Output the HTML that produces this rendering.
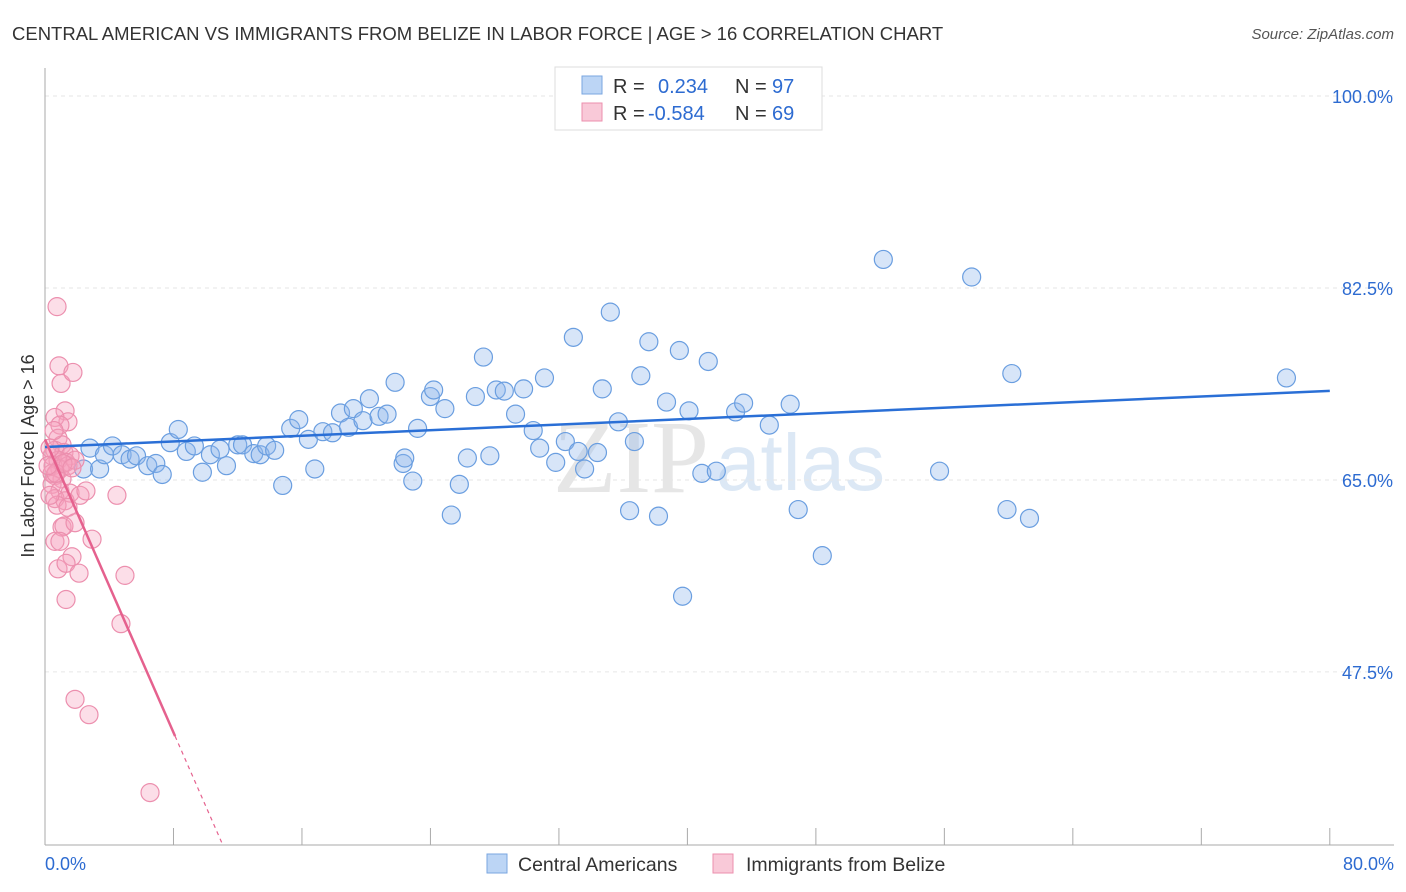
<!DOCTYPE html>
<html><head><meta charset="utf-8"><style>
body{margin:0;background:#fff;font-family:"Liberation Sans",sans-serif;}
#wrap{position:relative;width:1406px;height:892px;overflow:hidden}
</style></head><body>
<div id="wrap">
<svg id="svg" width="1406" height="892" xmlns="http://www.w3.org/2000/svg">
<text x="12" y="40" font-size="18.5" fill="#333">CENTRAL AMERICAN VS IMMIGRANTS FROM BELIZE IN LABOR FORCE | AGE &gt; 16 CORRELATION CHART</text>
<text x="1394" y="39" font-size="15" fill="#555" font-style="italic" text-anchor="end">Source: ZipAtlas.com</text>
<text x="553" y="492" font-size="104" fill="#e6e6e6" font-family="Liberation Serif,serif">ZIP</text>
<text x="716" y="490" font-size="80" fill="#dce8f5">atlas</text>
<text transform="translate(34,456) rotate(-90)" font-size="18" fill="#333" text-anchor="middle">In Labor Force | Age &gt; 16</text>
<g id="grid"></g><g id="marks"></g>
<g>
<rect x="555" y="67" width="267" height="63" fill="#fff" stroke="#ddd"/>
<rect x="582" y="76" width="20" height="18" fill="#bcd5f5" stroke="#7aa6e0"/>
<rect x="582" y="103" width="20" height="18" fill="#f9c9d8" stroke="#ec8fae"/>
<text y="93" font-size="20"><tspan x="613" fill="#333">R = </tspan><tspan x="658" fill="#2d6bd1">0.234</tspan><tspan x="735" fill="#333">N = </tspan><tspan x="772" fill="#2d6bd1">97</tspan></text>
<text y="120" font-size="20"><tspan x="613" fill="#333">R = </tspan><tspan x="648" fill="#2d6bd1">-0.584</tspan><tspan x="735" fill="#333">N = </tspan><tspan x="772" fill="#2d6bd1">69</tspan></text>
</g>
<g>
<rect x="487" y="854" width="20" height="19" fill="#bcd5f5" stroke="#7aa6e0"/>
<text x="518" y="871" font-size="19.5" fill="#333">Central Americans</text>
<rect x="713" y="854" width="20" height="19" fill="#f9c9d8" stroke="#ec8fae"/>
<text x="746" y="871" font-size="19.5" fill="#333">Immigrants from Belize</text>
</g>
<text x="45" y="870" font-size="18" fill="#2d6bd1">0.0%</text>
<text x="1394" y="870" font-size="18" fill="#2d6bd1" text-anchor="end">80.0%</text>
</svg>
</div>
<script>
const yTicks=[100,82.5,65,47.5];
const yTickLabels=["100.0%","82.5%","65.0%","47.5%"];
const xTicks=[0,8,16,24,32,40,48,56,64,72,80];
const blueX=[2.4,2.8,3.4,3.7,4.2,4.8,5.3,5.7,6.4,6.9,7.3,7.8,8.3,8.8,9.3,9.8,10.3,10.9,11.3,12.0,12.3,13.0,13.4,13.8,14.3,14.8,15.3,15.8,16.4,16.8,17.3,17.9,18.4,18.9,19.2,19.8,20.2,20.8,21.3,21.8,22.3,22.4,22.9,23.2,24.0,24.2,24.9,25.3,25.8,26.3,26.8,27.3,27.7,28.1,28.6,29.3,29.8,30.4,30.8,31.1,31.8,32.4,32.9,33.2,33.6,34.4,34.7,35.2,35.7,36.4,36.7,37.1,37.6,38.2,38.7,39.5,39.7,40.1,40.9,41.3,41.8,43.0,43.5,45.1,46.4,46.9,48.4,52.2,55.7,57.7,59.9,60.2,61.3,77.3];
const blueY=[66.0,67.9,66.0,67.3,68.1,67.3,66.9,67.2,66.3,66.5,65.5,68.4,69.6,67.6,68.1,65.7,67.3,67.8,66.3,68.2,68.2,67.4,67.3,68.1,67.7,64.5,69.7,70.5,68.7,66.0,69.4,69.3,71.1,69.8,71.5,70.4,72.4,70.8,71.0,73.9,66.5,67.0,64.9,69.7,72.6,73.2,71.5,61.8,64.6,67.0,72.6,76.2,67.2,73.2,73.1,71.0,73.3,69.5,67.9,74.3,66.6,68.5,78.0,67.6,66.0,67.5,73.3,80.3,70.3,62.2,68.5,74.5,77.6,61.7,72.1,76.8,54.4,71.3,65.6,75.8,65.8,71.2,72.0,70.0,71.9,62.3,58.1,85.1,65.8,83.5,62.3,74.7,61.5,74.3];
const pinkX=[0.75,0.87,1.0,1.74,1.25,1.43,0.62,0.93,0.81,1.06,0.62,0.44,1.18,1.56,0.81,1.31,0.5,0.93,1.43,1.87,0.62,1.06,0.44,0.93,1.56,0.62,1.25,2.18,2.55,0.75,1.43,4.48,1.06,1.18,1.87,0.62,0.93,2.93,1.68,0.81,1.31,2.12,4.98,1.31,4.73,1.87,2.74,6.54,0.44,0.31,0.68,1.12,1.68,0.19,0.31,0.56];
const pinkY=[80.8,75.4,73.8,74.8,71.3,70.3,70.7,70.0,68.8,68.2,67.7,67.2,67.5,67.2,66.8,66.6,66.3,66.0,66.3,66.8,65.4,65.1,64.6,64.0,63.8,63.3,63.1,63.6,64.0,62.7,62.5,63.6,60.7,60.8,61.1,59.4,59.4,59.6,58.0,56.9,57.4,56.5,56.3,54.1,51.9,45.0,43.6,36.5,65.6,67.9,65.6,66.5,66.1,66.3,63.6,69.5];
const trendIntercept=[68.0,68.7];
const trendSlope=[0.064,-3.34];
const X=v=>45+v*16.06, Y=v=>96+(100-v)*10.97;
const NS="http://www.w3.org/2000/svg";
const grid=document.getElementById('grid'),marks=document.getElementById('marks');
function mk(tag,attrs,parent){const e=document.createElementNS(NS,tag);for(const k in attrs)e.setAttribute(k,attrs[k]);parent.appendChild(e);return e;}
yTicks.forEach((t,i)=>{
 const l=mk('line',{x1:45,x2:1394,y1:Y(t),y2:Y(t),stroke:'#e6e6e6','stroke-dasharray':'4,4'},grid);
 
 
 const tx=mk('text',{x:1393,y:Y(t)+7,'font-size':18,fill:'#2d6bd1','text-anchor':'end'},grid);
 tx.textContent=yTickLabels[i];
 
 
});
const ya=mk('line',{x1:45,x2:45,y1:68,y2:845,stroke:'#aaa'},grid);


const xa=mk('line',{x1:45,x2:1394,y1:845,y2:845,stroke:'#aaa'},grid);


xTicks.forEach(t=>{const l=mk('line',{x1:X(t),x2:X(t),y1:828,y2:845,stroke:'#aaa'},grid);
 
 });
blueX.forEach((v,i)=>{const c=mk('circle',{cx:X(v),cy:Y(blueY[i]),r:9,fill:'rgba(140,180,235,0.35)',stroke:'#6a9ee0','stroke-width':1.2},marks);
 
 });
pinkX.forEach((v,i)=>{const c=mk('circle',{cx:X(v),cy:Y(pinkY[i]),r:9,fill:'rgba(245,160,190,0.35)',stroke:'#ec8fae','stroke-width':1.2},marks);
 
 });
const tb=mk('line',{x1:X(0),y1:Y(trendIntercept[0]),x2:X(80),y2:Y(trendIntercept[0]+trendSlope[0]*80),stroke:'#2a6fd6','stroke-width':2.5},marks);


const xs=8.1, xe=(trendIntercept[1]-31.7)/-trendSlope[1];
const tp=mk('line',{x1:X(0),y1:Y(trendIntercept[1]),x2:X(xs),y2:Y(trendIntercept[1]+trendSlope[1]*xs),stroke:'#e5618e','stroke-width':2.5},marks);


const td=mk('line',{x1:X(xs),y1:Y(trendIntercept[1]+trendSlope[1]*xs),x2:X(xe),y2:Y(trendIntercept[1]+trendSlope[1]*xe),stroke:'#e5618e','stroke-width':1.2,'stroke-dasharray':'4,4'},marks);


</script>
</body></html>
